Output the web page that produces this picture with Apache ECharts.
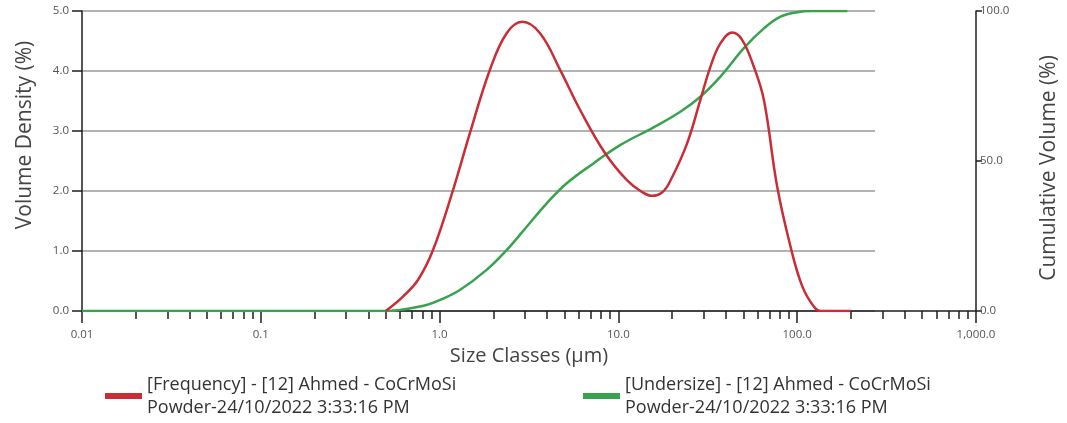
<!DOCTYPE html>
<html>
<head>
<meta charset="utf-8">
<script src="https://cdn.jsdelivr.net/npm/echarts@6/dist/echarts.min.js"></script>
<style>
html,body{margin:0;padding:0;background:#fff;}
#chart{width:1067px;height:423px;}
</style>
</head>
<body>
<div id="chart"></div>
<script>
// ---- data ----
var freqSizes = [0.5, 0.624, 0.758, 0.92, 1.19, 1.476, 1.912, 2.371, 2.9, 3.645, 4.72, 6.11, 8.43, 11.16, 13.3, 15.41, 17.6, 19.52, 24.2, 28.74, 32.7, 37.2, 43.3, 49.2, 57.2, 65.1, 77.3, 91.8, 106.8, 124.1, 135.2, 199.3];
var freqValues = [0, 0.24, 0.52, 1.02, 2.02, 2.96, 4.02, 4.63, 4.82, 4.63, 4.02, 3.35, 2.63, 2.18, 2.0, 1.92, 1.98, 2.17, 2.79, 3.52, 4.07, 4.46, 4.64, 4.52, 4.07, 3.52, 2.07, 1.07, 0.41, 0.07, 0, 0];

var cumSizes = [0.01, 0.1, 0.5, 0.624, 0.845, 1.0, 1.298, 1.832, 2.371, 3.07, 3.974, 5.144, 7.25, 10.23, 15.73, 22.2, 28.74, 37.2, 50.3, 65.1, 80.7, 100.1, 120, 190.9];
var cumValues = [0, 0, 0, 0.5, 2.0, 3.6, 7.0, 13.7, 20.3, 28.1, 35.9, 42.6, 49.2, 55.3, 61.2, 66.4, 71.4, 78.1, 87.6, 94.2, 98.1, 99.6, 100, 100];

var xTickLabels = ['0.01', '0.1', '1.0', '10.0', '100.0', '1,000.0'];
var freqName = '[Frequency] - [12] Ahmed - CoCrMoSi\nPowder-24/10/2022 3:33:16 PM';
var cumName = '[Undersize] - [12] Ahmed - CoCrMoSi\nPowder-24/10/2022 3:33:16 PM';

// minor tick positions (2..9 per decade), in log10 units for the tick-only axis
var minorTicks = [];
for (var d = -2; d < 3; d++) {
  for (var k = 2; k <= 9; k++) minorTicks.push(d + Math.log10(k));
}

var FONT = '"Open Sans", "Noto Sans", sans-serif';
var RED = '#c92d36';
var GREEN = '#39a24f';
var AXIS = '#1e1e1e';

function pairs(xs, ys) { return xs.map(function (x, i) { return [x, ys[i]]; }); }

var chart = echarts.init(document.getElementById('chart'), null, {renderer: 'canvas'});
chart.setOption({
  animation: false,
  backgroundColor: '#fff',
  textStyle: {fontFamily: FONT},
  grid: [
    {left: 82, right: 91, top: 11, bottom: 112},
    {left: 82, right: 192, top: 11, bottom: 112}
  ],
  xAxis: [
    {
      type: 'log', logBase: 10, min: 0.01, max: 1000, gridIndex: 0,
      name: 'Size Classes (µm)', nameLocation: 'middle', nameGap: 32,
      nameTextStyle: {fontSize: 20, color: '#444', fontFamily: FONT},
      axisLine: {show: true, onZero: false, lineStyle: {color: AXIS, width: 1.5}},
      axisTick: {show: true, length: 12, lineStyle: {color: AXIS, width: 1.5}},
      axisLabel: {
        margin: 18, fontSize: 11.5, color: '#555', fontFamily: FONT,
        formatter: function (v) { return xTickLabels[Math.round(Math.log10(v)) + 2]; }
      },
      splitLine: {show: false}, minorTick: {show: false}
    },
    {
      type: 'value', min: -2, max: 3, gridIndex: 0, position: 'bottom',
      axisLine: {show: false, onZero: false},
      axisTick: {show: true, length: 8, customValues: minorTicks, lineStyle: {color: AXIS, width: 1.5}},
      axisLabel: {show: false}, splitLine: {show: false}
    },
    {
      type: 'value', gridIndex: 1, show: false
    }
  ],
  yAxis: [
    {
      type: 'value', min: 0, max: 5, interval: 1, gridIndex: 0, position: 'left',
      axisLine: {show: true, onZero: false, lineStyle: {color: AXIS, width: 1.5}},
      axisTick: {show: true, length: 10, lineStyle: {color: AXIS, width: 1.5}},
      axisLabel: {margin: 13, fontSize: 11.5, color: '#555', fontFamily: FONT, formatter: function (v) { return v.toFixed(1); }},
      splitLine: {show: false}
    },
    {
      type: 'value', min: 0, max: 100, interval: 50, gridIndex: 0, position: 'right',
      axisLine: {show: true, onZero: false, lineStyle: {color: AXIS, width: 1.5}},
      axisTick: {show: true, length: 6, lineStyle: {color: AXIS, width: 1.5}},
      axisLabel: {margin: 4, fontSize: 11.5, color: '#555', fontFamily: FONT, formatter: function (v) { return v.toFixed(1); }},
      splitLine: {show: false}
    },
    {
      type: 'value', min: 0, max: 5, interval: 1, gridIndex: 1,
      axisLine: {show: false, onZero: false}, axisTick: {show: false}, axisLabel: {show: false},
      splitLine: {show: true, lineStyle: {color: '#9a9a9a', width: 1.5}}
    }
  ],
  legend: [
    {
      data: [freqName], left: 105, top: 373, padding: 0,
      icon: 'rect', itemWidth: 37, itemHeight: 6, itemGap: 5,
      textStyle: {fontSize: 18, lineHeight: 23, color: '#333', fontFamily: FONT}
    },
    {
      data: [cumName], left: 583, top: 373, padding: 0,
      icon: 'rect', itemWidth: 37, itemHeight: 6, itemGap: 5,
      textStyle: {fontSize: 18, lineHeight: 23, color: '#333', fontFamily: FONT}
    }
  ],
  graphic: [
    {
      type: 'text', x: 25, y: 135, rotation: Math.PI / 2,
      style: {text: 'Volume Density (%)', fontSize: 21, fill: '#444', fontFamily: FONT, align: 'center', verticalAlign: 'middle'}
    },
    {
      type: 'text', x: 1049, y: 168, rotation: Math.PI / 2,
      style: {text: 'Cumulative Volume (%)', fontSize: 21, fill: '#444', fontFamily: FONT, align: 'center', verticalAlign: 'middle'}
    }
  ],
  series: [
    {
      name: cumName, type: 'line', xAxisIndex: 0, yAxisIndex: 1,
      data: pairs(cumSizes, cumValues), showSymbol: false, smooth: 0.4,
      lineStyle: {color: GREEN, width: 2.5}, itemStyle: {color: GREEN}
    },
    {
      name: freqName, type: 'line', xAxisIndex: 0, yAxisIndex: 0,
      data: pairs(freqSizes, freqValues), showSymbol: false, smooth: 0.4,
      lineStyle: {color: RED, width: 2.5}, itemStyle: {color: RED}
    }
  ]
});
</script>
</body>
</html>
